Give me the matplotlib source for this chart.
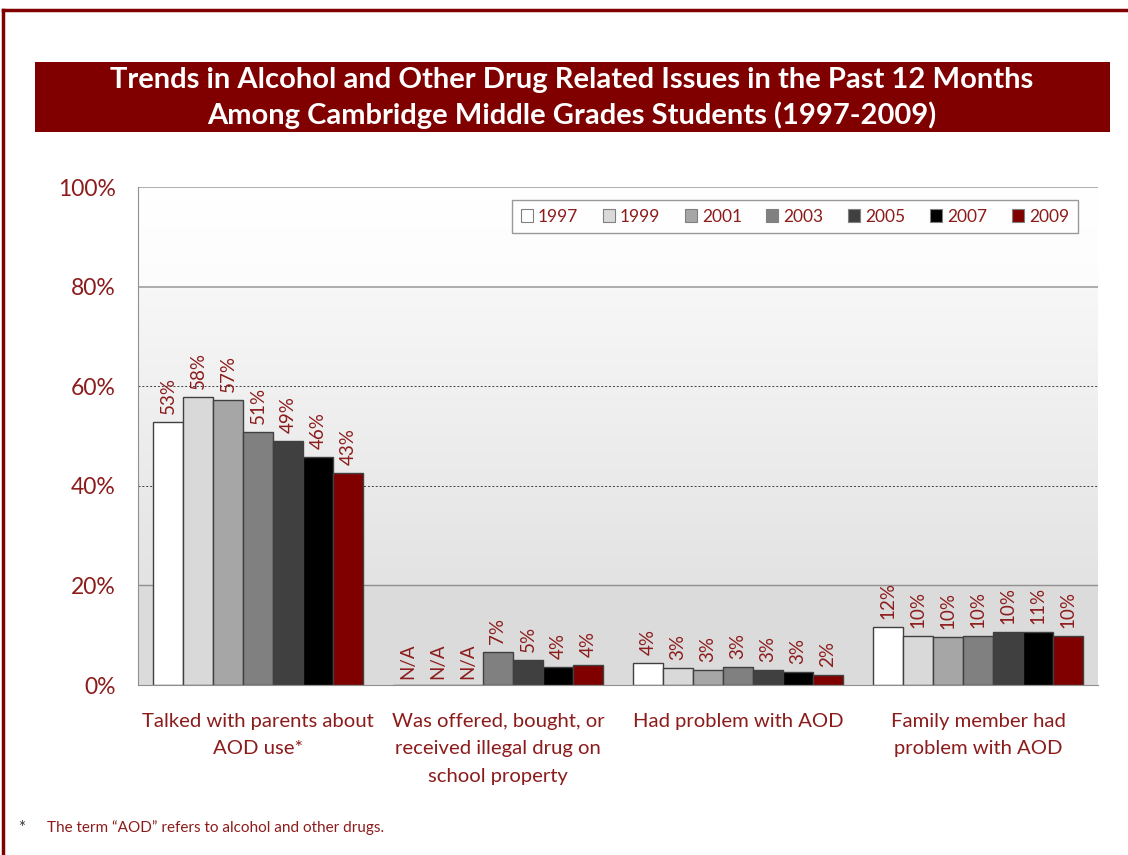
import numpy as np
import matplotlib
matplotlib.use('Agg')
import matplotlib.pyplot as plt
from matplotlib.patches import Rectangle

plt.rcParams['font.family'] = ['Lato', 'DejaVu Sans']

# --- data ---
categories = [
    'Talked with parents about\nAOD use*',
    'Was offered, bought, or\nreceived illegal drug on\nschool property',
    'Had problem with AOD',
    'Family member had\nproblem with AOD',
]
years = ['1997', '1999', '2001', '2003', '2005', '2007', '2009']
# values in percent, None = N/A
values = {
    '1997': [52.9, None, 4.5, 11.6],
    '1999': [57.8, None, 3.4, 9.8],
    '2001': [57.2, None, 3.0, 9.6],
    '2003': [50.8, 6.6, 3.6, 9.8],
    '2005': [49.0, 5.0, 3.0, 10.6],
    '2007': [45.7, 3.6, 2.6, 10.6],
    '2009': [42.6, 4.0, 2.0, 9.8],
}
labels = {
    '1997': ['53%', 'N/A', '4%', '12%'],
    '1999': ['58%', 'N/A', '3%', '10%'],
    '2001': ['57%', 'N/A', '3%', '10%'],
    '2003': ['51%', '7%', '3%', '10%'],
    '2005': ['49%', '5%', '3%', '10%'],
    '2007': ['46%', '4%', '3%', '11%'],
    '2009': ['43%', '4%', '2%', '10%'],
}
colors = ['#ffffff', '#d9d9d9', '#a6a6a6', '#808080', '#404040', '#000000', '#800000']

RED_TXT = '#8c1c1c'

fig = plt.figure(figsize=(11.28, 8.55), dpi=100)
W, H = 1128, 855

# figure border (top + left)
fig.add_artist(plt.Line2D([3 / W, 3 / W], [0, 1 - 10 / H], color='#800000', lw=2.5))
fig.add_artist(plt.Line2D([3 / W, 1], [1 - 10 / H, 1 - 10 / H], color='#800000', lw=2.5))

# title banner
fig.add_artist(Rectangle((35 / W, 1 - 132 / H), 1075 / W, 70 / H,
                         transform=fig.transFigure, facecolor='#800000',
                         edgecolor='none'))
fig.text(572 / W, 1 - 98 / H,
         'Trends in Alcohol and Other Drug Related Issues in the Past 12 Months\n'
         'Among Cambridge Middle Grades Students (1997-2009)',
         ha='center', va='center', color='white', fontsize=21,
         fontweight='bold', linespacing=1.4)

ax = fig.add_axes([138 / W, 1 - 685 / H, 960 / W, 498 / H])
ax.set_xlim(0, 4)
ax.set_ylim(0, 100)

# gradient background
ys = np.linspace(0, 100, 400)
shade = np.interp(ys, [0, 20, 20.01, 80, 80.01, 100],
                  [0.86, 0.86, 0.89, 0.97, 0.99, 1.0])
grad = np.repeat(shade[:, None], 2, axis=1)
ax.imshow(np.dstack([grad, grad, grad]), extent=[0, 4, 0, 100], origin='lower',
          aspect='auto', zorder=0, interpolation='bilinear')

# gridlines
ax.axhline(100, color='#a0a0a0', lw=1.2, zorder=1)
ax.axhline(80, color='#a0a0a0', lw=1.2, zorder=1)
ax.axhline(60, color='#404040', lw=0.7, ls=(0, (2, 2)), zorder=1)
ax.axhline(40, color='#404040', lw=0.7, ls=(0, (2, 2)), zorder=1)
ax.axhline(20, color='#909090', lw=1.0, zorder=1)

bw = 0.125
centers = np.arange(len(categories)) + 0.5
for i, yr in enumerate(years):
    xs = centers + (i - 3) * bw
    vals = [v if v is not None else 0 for v in values[yr]]
    ax.bar(xs, vals, width=bw, color=colors[i], edgecolor='#404040',
           linewidth=1, zorder=3, label=yr)
    for x, v, lab in zip(xs, values[yr], labels[yr]):
        if v is None:
            ax.text(x, 1.2, lab, rotation=90, ha='center', va='bottom',
                    color=RED_TXT, fontsize=13.5, zorder=4)
        else:
            ax.text(x, v + 1.6, lab, rotation=90, ha='center', va='bottom',
                    color=RED_TXT, fontsize=13.5, zorder=4)

for s in ['top', 'right']:
    ax.spines[s].set_visible(False)
ax.spines['left'].set_color('#909090')
ax.spines['bottom'].set_color('#909090')
ax.spines['left'].set_zorder(5)
ax.spines['bottom'].set_zorder(5)

ax.set_yticks(np.arange(0, 101, 20))
ax.set_yticklabels([f'{t}%' for t in range(0, 101, 20)])
ax.tick_params(axis='y', length=0, pad=16, labelsize=16.5, labelcolor=RED_TXT)
ax.set_xticks(centers)
ax.set_xticklabels(categories)
ax.tick_params(axis='x', length=0, pad=20, labelsize=14.6, labelcolor=RED_TXT)
for t in ax.get_xticklabels():
    t.set_linespacing(1.75)

leg = ax.legend(loc='upper right', bbox_to_anchor=(0.979, 0.974), ncol=7,
                frameon=True, fancybox=False, fontsize=12.5, handlelength=0.7,
                handleheight=0.7, handletextpad=0.3, columnspacing=1.4,
                borderpad=0.5, borderaxespad=0)
leg.get_frame().set_edgecolor('#808080')
leg.get_frame().set_linewidth(1)
for t in leg.get_texts():
    t.set_color(RED_TXT)
for p in leg.get_patches():
    p.set_edgecolor('#808080')
    p.set_linewidth(0.8)

# footnote
fig.text(18 / W, 1 - 828 / H, '*', color='#333333', fontsize=12, va='center')
fig.text(47 / W, 1 - 828 / H, 'The term \u201cAOD\u201d refers to alcohol and other drugs.',
         color=RED_TXT, fontsize=11, va='center')

fig.savefig('out.png', dpi=100)
